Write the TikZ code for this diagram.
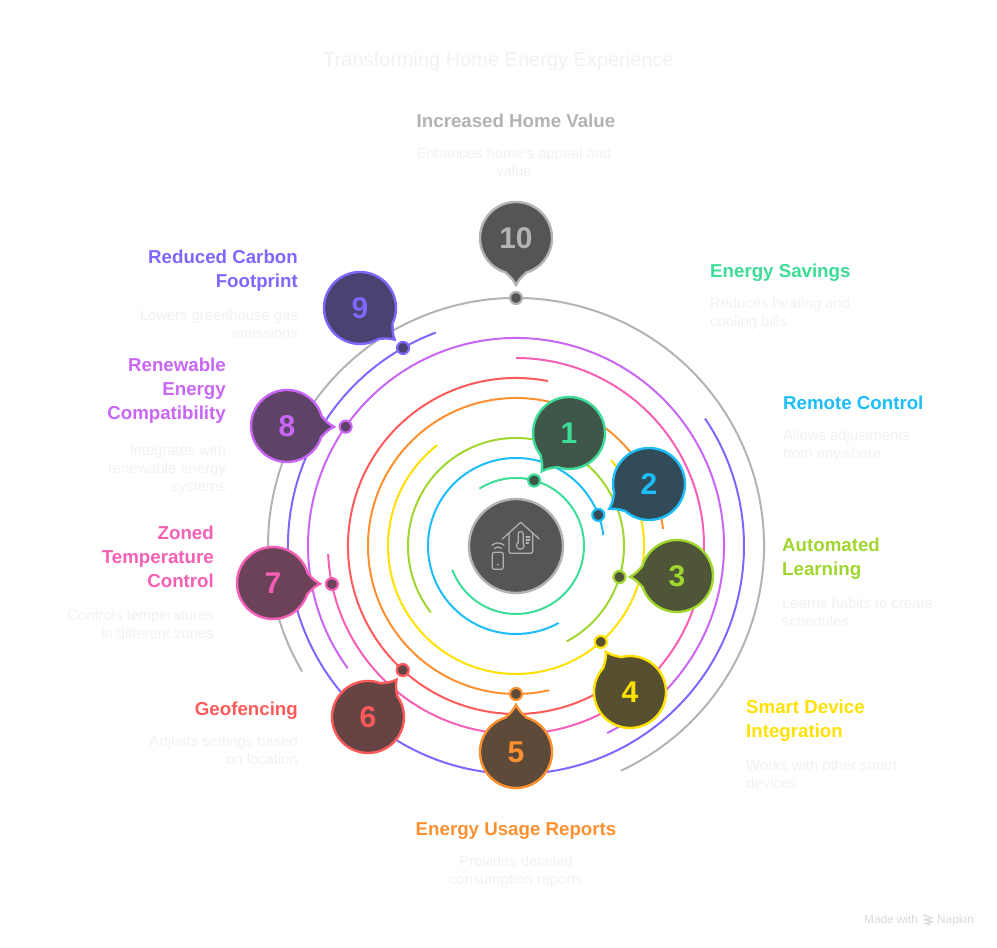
\documentclass[tikz,border=0pt]{standalone}
\usepackage{fontspec}
\setmainfont{Liberation Sans}

\definecolor{savings}{HTML}{3DDC97}
\definecolor{savingsfill}{HTML}{3F5748}
\definecolor{remote}{HTML}{1CBDF9}
\definecolor{remotefill}{HTML}{324B59}
\definecolor{learning}{HTML}{A0D62F}
\definecolor{learningfill}{HTML}{4F5638}
\definecolor{integration}{HTML}{FFE100}
\definecolor{integrationfill}{HTML}{575030}
\definecolor{reports}{HTML}{FF9030}
\definecolor{reportsfill}{HTML}{5E4A38}
\definecolor{geofence}{HTML}{FF5A5A}
\definecolor{geofencefill}{HTML}{664444}
\definecolor{zoned}{HTML}{F55FB5}
\definecolor{zonedfill}{HTML}{6B4258}
\definecolor{renewable}{HTML}{C966F5}
\definecolor{renewablefill}{HTML}{5F4268}
\definecolor{carbon}{HTML}{8066FF}
\definecolor{carbonfill}{HTML}{4A4270}
\definecolor{homevalue}{HTML}{B3B3B3}
\definecolor{homefill}{HTML}{555555}
\definecolor{faint}{HTML}{F1F1F1}

\newcommand{\bubble}[6]{%
  \draw[bubblebody,draw=#4,fill=#5] ([shift={(#2)}]#3+17:36)
    arc[start angle=#3+17,end angle=#3+343,radius=36]
    .. controls ([shift={(#2)}]#3-5:41) .. ([shift={(#2)}]#3:47)
    .. controls ([shift={(#2)}]#3+5:41) .. cycle;
  \node[number,text=#4] (#1) at (#2) {#6};
}

\begin{document}
\begin{tikzpicture}[
    x=1pt,y=1pt,
    ring/.style={line width=2pt},
    bubblebody/.style={line width=2.4pt},
    number/.style={inner sep=0pt,font=\fontsize{30}{30}\selectfont\bfseries},
    dot/.style={circle,line width=2.2pt,minimum size=12pt,inner sep=0pt},
    headl/.style={inner sep=0pt,yshift=-2.6pt,font=\fontsize{18.7}{24}\selectfont\bfseries,
      execute at begin node=\strut,execute at end node=\strut},
    descl/.style={inner sep=0pt,yshift=-2.5pt,text=faint,font=\fontsize{14.8}{18}\selectfont,
      execute at begin node=\strut,execute at end node=\strut},
    icon/.style={draw=homevalue,line width=1.2pt,line join=round,line cap=round}]
\useasboundingbox (0,0) rectangle (997,948);
\coordinate (hub) at (516,402);

% rings
\draw[ring,savings] ([shift={(hub)}]122.5:68) arc[start angle=122.5,end angle=-159.5,radius=68];
\draw[ring,remote] ([shift={(hub)}]7:88) arc[start angle=7,end angle=299,radius=88];
\draw[ring,learning] ([shift={(hub)}]-62:108) arc[start angle=-62,end angle=218,radius=108];
\draw[ring,integration] ([shift={(hub)}]42:128) arc[start angle=42,end angle=-232,radius=128];
\draw[ring,reports] ([shift={(hub)}]6.6:148) arc[start angle=6.6,end angle=283,radius=148];
\draw[ring,geofence] ([shift={(hub)}]79:168) arc[start angle=79,end angle=315,radius=168];
\draw[ring,zoned] ([shift={(hub)}]90:188) arc[start angle=90,end angle=-177.5,radius=188];
\draw[ring,renewable] ([shift={(hub)}]-64:208) arc[start angle=-64,end angle=216,radius=208];
\draw[ring,carbon] ([shift={(hub)}]110.6:228) arc[start angle=110.6,end angle=394,radius=228];
\draw[ring,homevalue] ([shift={(hub)}]-65:248) arc[start angle=-65,end angle=210.4,radius=248];

% centre
\node[circle,draw=homevalue,fill=homefill,line width=2.4pt,minimum size=94pt,inner sep=0pt] (centre) at (hub) {};
\draw[icon] (502.3,409) -- (520.7,425.7) -- (539.3,409);
\draw[icon,rounded corners=2pt] (509,415) -- (509,394.7) -- (532.7,394.7) -- (532.7,415);
\draw[icon] (518.2,405) -- (518.2,414) arc[start angle=180,end angle=0,radius=2.5] -- (523.2,405)
  arc[start angle=40,end angle=-220,radius=3.8];
\draw[icon] (526,411) -- (530,411) (526,408) -- (530,408) (526,405) -- (528.5,405);
\draw[icon,rounded corners=2pt] (492.3,395.7) rectangle (503.3,378.7);
\fill[homevalue] (498,383.3) circle (1pt);
\draw[icon] ([shift={(498,395.5)}]50:5.5) arc[start angle=50,end angle=130,radius=5.5];
\draw[icon] ([shift={(498,395.5)}]50:9.5) arc[start angle=50,end angle=130,radius=9.5];

% bubbles
\bubble{one}{569,515}{234.6}{savings}{savingsfill}{1}
\bubble{two}{649,464}{212}{remote}{remotefill}{2}
\bubble{three}{677,372}{181}{learning}{learningfill}{3}
\bubble{four}{630,256}{121}{integration}{integrationfill}{4}
\bubble{five}{516,196}{90}{reports}{reportsfill}{5}
\bubble{six}{368,231}{52.6}{geofence}{geofencefill}{6}
\bubble{seven}{273,365}{-1}{zoned}{zonedfill}{7}
\bubble{eight}{287,522}{-1}{renewable}{renewablefill}{8}
\bubble{nine}{360,640}{-42.4}{carbon}{carbonfill}{9}
\bubble{ten}{516,710}{-90}{homevalue}{homefill}{10}

% dots
\node[dot,draw=savings,fill=savingsfill] (dotone) at ([shift={(hub)}]74.5:68) {};
\node[dot,draw=remote,fill=remotefill] (dottwo) at ([shift={(hub)}]20.7:88) {};
\node[dot,draw=learning,fill=learningfill] (dotthree) at ([shift={(hub)}]-16.7:108) {};
\node[dot,draw=integration,fill=integrationfill] (dotfour) at ([shift={(hub)}]-48.5:128) {};
\node[dot,draw=reports,fill=reportsfill] (dotfive) at ([shift={(hub)}]-90:148) {};
\node[dot,draw=geofence,fill=geofencefill] (dotsix) at ([shift={(hub)}]227.6:168) {};
\node[dot,draw=zoned,fill=zonedfill] (dotseven) at ([shift={(hub)}]191.7:188) {};
\node[dot,draw=renewable,fill=renewablefill] (doteight) at ([shift={(hub)}]145:208) {};
\node[dot,draw=carbon,fill=carbonfill] (dotnine) at ([shift={(hub)}]119.7:228) {};
\node[dot,draw=homevalue,fill=homefill] (dotten) at ([shift={(hub)}]90:248) {};

% texts
\node[inner sep=0pt,text=faint,anchor=base,font=\fontsize{20}{24}\selectfont] (title) at (498.5,881) {Transforming Home Energy Experience};

\node[headl,text=homevalue] (headten) at (516,828) {Increased Home Value};
\node[descl,align=center] (descten) at (514,786) {Enhances home's appeal and\\value};

\node[headl,text=savings,anchor=west] (headone) at (710,678) {Energy Savings};
\node[descl,align=left,anchor=west] (descone) at (710,636) {Reduces heating and\\cooling bills};

\node[headl,text=remote,anchor=west] (headtwo) at (783,546) {Remote Control};
\node[descl,align=left,anchor=west] (desctwo) at (783,504) {Allows adjustments\\from anywhere};

\node[headl,text=learning,align=left,anchor=west] (headthree) at (782,390) {Automated\\Learning};
\node[descl,align=left,anchor=west] (descthree) at (782,336) {Learns habits to create\\schedules};

\node[headl,text=integration,align=left,anchor=west] (headfour) at (746,228) {Smart Device\\Integration};
\node[descl,align=left,anchor=west] (descfour) at (746,174) {Works with other smart\\devices};

\node[headl,text=reports] (headfive) at (516,120) {Energy Usage Reports};
\node[descl,align=center] (descfive) at (516,78) {Provides detailed\\consumption reports};

\node[headl,text=geofence,anchor=east] (headsix) at (298,240) {Geofencing};
\node[descl,align=right,anchor=east] (descsix) at (298,198) {Adjusts settings based\\on location};

\node[headl,text=zoned,align=right,anchor=east] (headseven) at (214,390) {Zoned\\Temperature\\Control};
\node[descl,align=right,anchor=east] (descseven) at (214,324) {Controls temperatures\\in different zones};

\node[headl,text=renewable,align=right,anchor=east] (headeight) at (226,558) {Renewable\\Energy\\Compatibility};
\node[descl,align=right,anchor=east] (desceight) at (226,480) {Integrates with\\renewable energy\\systems};

\node[headl,text=carbon,align=right,anchor=east] (headnine) at (298,678) {Reduced Carbon\\Footprint};
\node[descl,align=right,anchor=east] (descnine) at (298,624) {Lowers greenhouse gas\\emissions};

% footer
\node[inner sep=0pt,text=black!15,anchor=base west,font=\fontsize{11.8}{13}\selectfont] (madewith) at (864,24) {Made with};
\node[inner sep=0pt,text=black!15,anchor=base west,font=\fontsize{11.8}{13}\selectfont] (napkin) at (937,24) {Napkin};
\draw[black!15,line width=1.2pt] (923,33) -- (932,30) -- (924,28) (924,29) -- (932,26) -- (925,24) (925,25) -- (930,23);
\end{tikzpicture}
\end{document}
